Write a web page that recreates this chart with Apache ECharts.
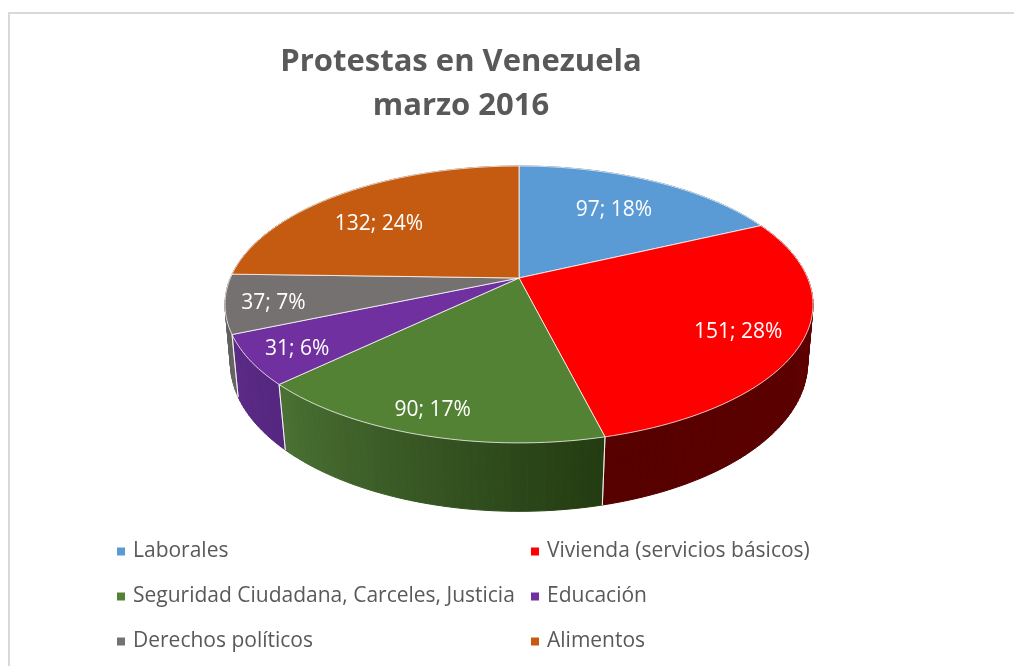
<!DOCTYPE html>
<html>
<head>
<meta charset="utf-8">
<style>
  html, body { margin: 0; padding: 0; background: #fff; }
  #chart { width: 1014px; height: 666px; }
</style>
<script src="https://cdn.jsdelivr.net/npm/echarts@6/dist/echarts.min.js"></script>
</head>
<body>
<div id="chart"></div>
<script>
const categories = ['Laborales', 'Vivienda (servicios básicos)', 'Seguridad Ciudadana, Carceles, Justicia', 'Educación', 'Derechos políticos', 'Alimentos'];
const protestas = [97, 151, 90, 31, 37, 132];
const porcentajes = [18, 28, 17, 6, 7, 24];

const topColors = ['#5b9bd5', '#ff0000', '#548235', '#7030a0', '#767171', '#c55a11'];
const wallColors = [
  ['#2e5a85', '#2e5a85'],
  ['#620000', '#560000'],
  ['#233c12', '#4a7033'],
  ['#552780', '#5b2a86'],
  ['#6a6666', '#5f5c5c'],
  ['#8a3f0c', '#8a3f0c']
];
const labelRadii = [0.68, 0.78, 0.85, 0.85, 0.85, 0.74];
const labelShiftX = [0, 2, -6, 3, 3, -5];
const labelShiftY = [1, 6, 3, 2, 3, 10];

// perspective of both rims, fitted on the picture
const topDisc = { x: 519, y: 278, rx: 288.6, ry: 133.4, persp: 0.191 };
const bottomDisc = { x: 519, y: 336.4, rx: 284, ry: 143.8, persp: 0.178 };

const total = protestas.reduce((a, b) => a + b, 0);

const project = (disc, angle, r) => {
  const px = Math.sin(angle) * r;
  const pz = Math.cos(angle) * r;
  const den = 1 + disc.persp * pz;
  return [disc.x + (disc.rx * px) / den, disc.y - (disc.ry * pz) / den];
};

const angles = (a0, a1) => {
  const steps = Math.max(4, Math.ceil((a1 - a0) * 40));
  const out = [];
  for (let i = 0; i <= steps; i++) out.push(a0 + ((a1 - a0) * i) / steps);
  return out;
};

const wallStrips = (index, list) => {
  const strips = [];
  for (let i = 0; i < list.length - 1; i++) {
    const color = echarts.color.lerp(i / (list.length - 2), wallColors[index]);
    strips.push({
      type: 'polygon',
      z2: 1,
      shape: {
        points: [
          project(topDisc, list[i], 1),
          project(topDisc, list[i + 1], 1),
          project(bottomDisc, list[i + 1], 1),
          project(bottomDisc, list[i], 1)
        ]
      },
      style: { fill: color, stroke: color, lineWidth: 1 }
    });
  }
  return strips;
};

const wallEdge = (angle) => {
  const a = project(topDisc, angle, 1);
  const b = project(bottomDisc, angle, 1);
  return {
    type: 'line',
    z2: 2,
    shape: { x1: a[0], y1: a[1], x2: b[0], y2: b[1] },
    style: { stroke: 'rgba(255,255,255,0.75)', lineWidth: 1 }
  };
};

const renderSlice = (index) => (params, api) => {
  const start = api.value(0);
  const value = api.value(1);
  const a0 = (start / total) * Math.PI * 2;
  const a1 = ((start + value) / total) * Math.PI * 2;
  const mid = (a0 + a1) / 2;
  const list = angles(a0, a1);
  const labelPos = project(topDisc, mid, labelRadii[index]);

  return {
    type: 'group',
    children: wallStrips(index, list).concat([
      wallEdge(a0),
      wallEdge(a1),
      {
        type: 'polygon',
        z2: 5,
        shape: { points: [[topDisc.x, topDisc.y]].concat(list.map((a) => project(topDisc, a, 1))) },
        style: { fill: topColors[index], stroke: 'rgba(255,255,255,0.75)', lineWidth: 1 }
      },
      {
        type: 'text',
        z2: 10,
        style: {
          x: labelPos[0] + labelShiftX[index],
          y: labelPos[1] + labelShiftY[index],
          text: value + '; ' + porcentajes[index] + '%',
          align: 'center',
          verticalAlign: 'middle',
          fill: '#fff',
          font: '21px "Open Sans"'
        }
      }
    ])
  };
};

let running = 0;
const series = categories.map((name, i) => {
  const s = {
    name,
    type: 'custom',
    coordinateSystem: 'none',
    silent: true,
    itemStyle: { color: topColors[i] },
    renderItem: renderSlice(i),
    data: [[running, protestas[i]]]
  };
  running += protestas[i];
  return s;
});

const legendBase = {
  orient: 'vertical',
  icon: 'rect',
  padding: 0,
  itemWidth: 8,
  itemHeight: 8,
  itemGap: 20,
  selectedMode: false,
  textStyle: { color: '#595959', fontFamily: 'Open Sans', fontSize: 21, padding: [0, 0, 0, 3], lineHeight: 25 }
};

const chart = echarts.init(document.getElementById('chart'));
chart.setOption({
  animation: false,
  backgroundColor: '#fff',
  title: {
    text: 'Protestas en Venezuela\nmarzo 2016',
    left: 456,
    top: 35,
    textAlign: 'center',
    textStyle: { color: '#595959', fontFamily: 'Open Sans', fontWeight: 'bold', fontSize: 31, lineHeight: 44 }
  },
  legend: [
    Object.assign({}, legendBase, { left: 117, top: 539, data: [categories[0], categories[2], categories[4]] }),
    Object.assign({}, legendBase, { left: 531, top: 539, data: [categories[1], categories[3], categories[5]] })
  ],
  graphic: [
    { type: 'rect', silent: true, shape: { x: 9, y: 13, width: 1100, height: 800 }, style: { fill: 'none', stroke: '#d9d9d9', lineWidth: 2 } }
  ],
  series
});
</script>
</body>
</html>
